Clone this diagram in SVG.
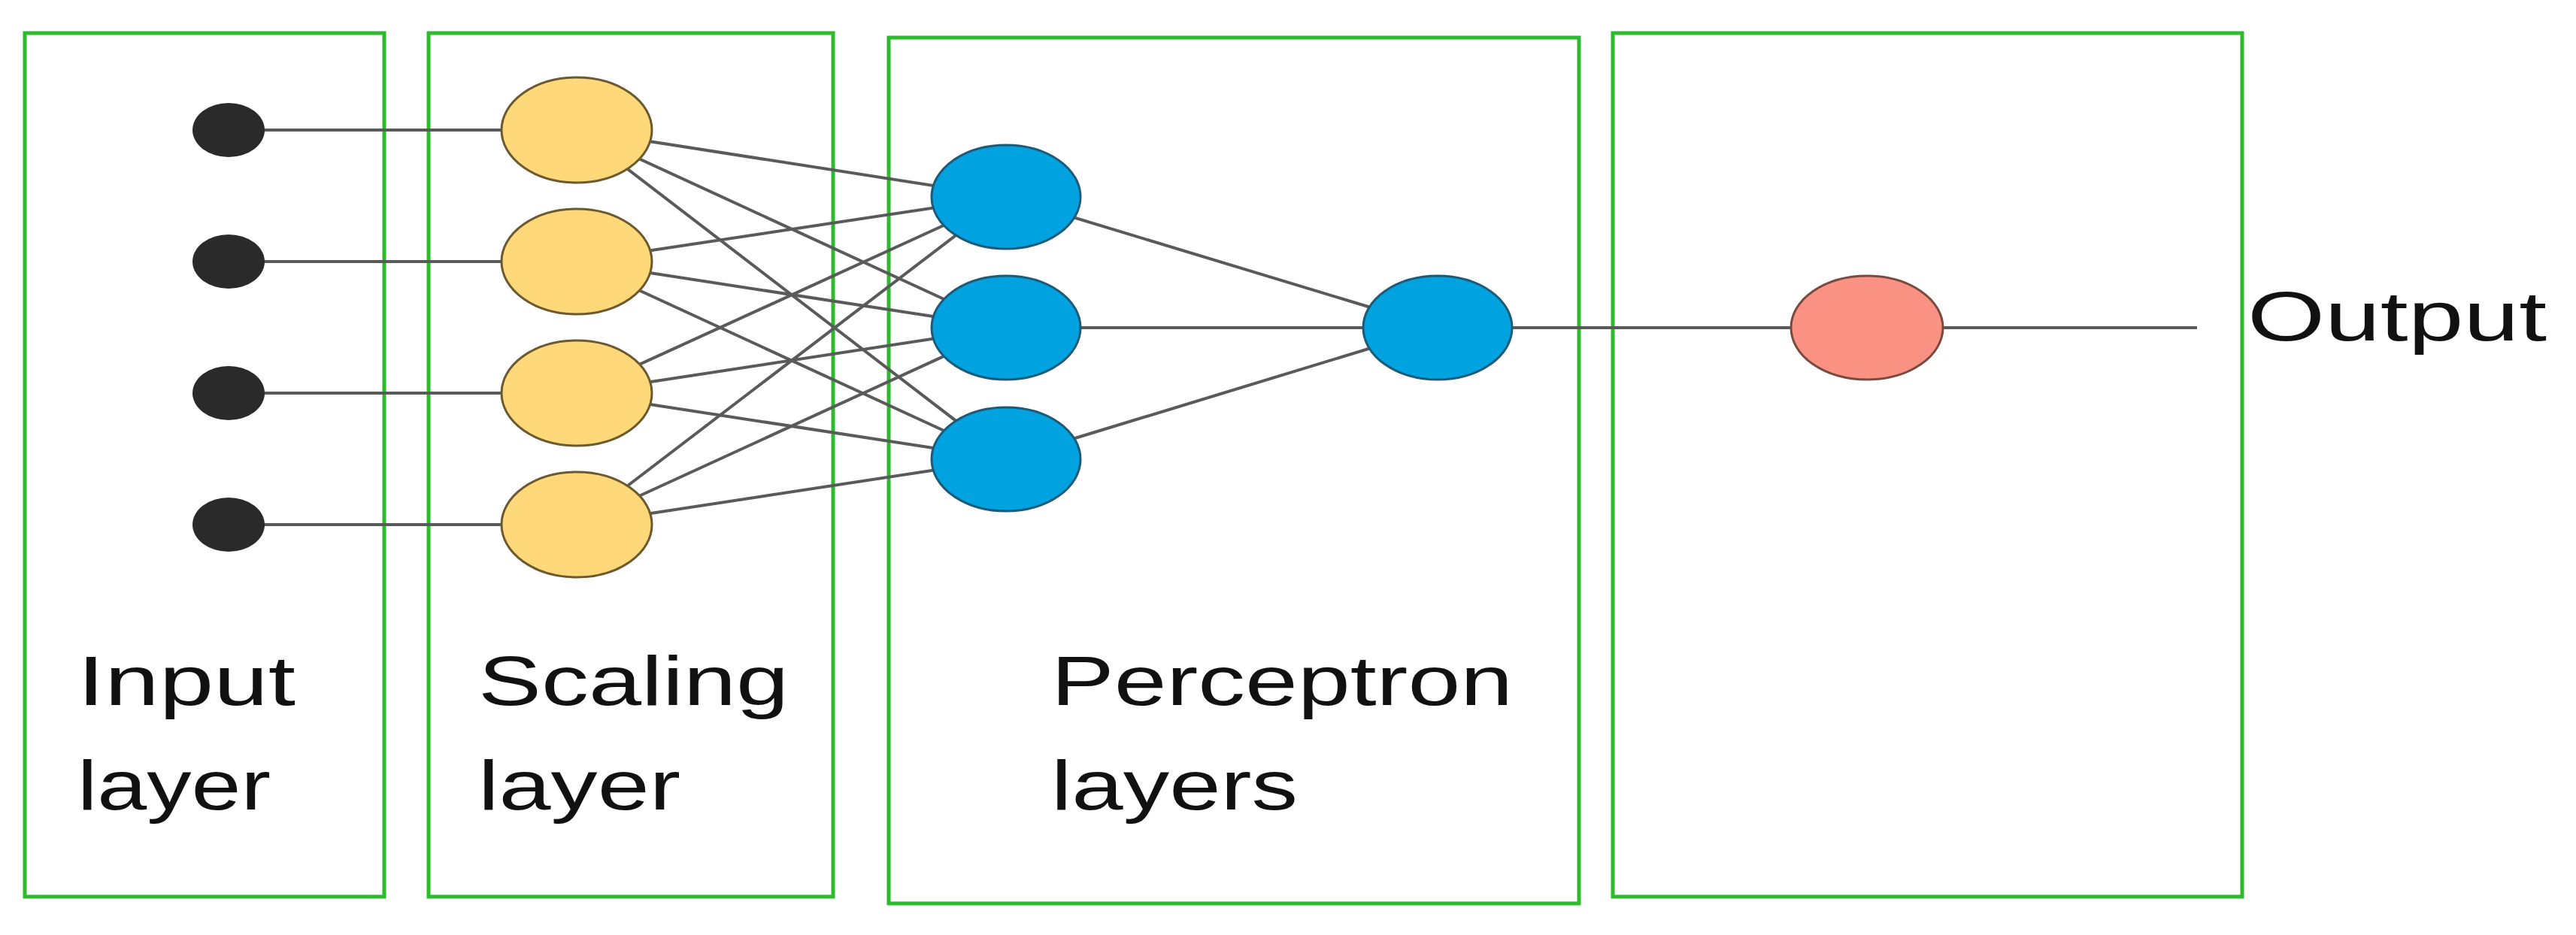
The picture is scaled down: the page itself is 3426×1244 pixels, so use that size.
<svg xmlns="http://www.w3.org/2000/svg" width="3426" height="1244" viewBox="0 0 3426 1244">
<style>
.box{fill:none;stroke:#2dbb2d;stroke-width:5}
.ln{stroke:#5a5a5a;stroke-width:4;fill:none}
.dot{fill:#2a2a2a}
.y{fill:#FFD879;stroke:#6b5a30;stroke-width:3}
.b{fill:#00A3DF;stroke:#1d5a78;stroke-width:3}
.r{fill:#F99282;stroke:#7a4a40;stroke-width:3}
text{font-family:"Liberation Sans","Open Sans",sans-serif;font-size:92px;fill:#111}
</style>
<rect width="3426" height="1244" fill="#fff"/>
<g id="boxes">
<rect class="box" x="33" y="44" width="478" height="1149"/>
<rect class="box" x="570" y="44" width="538" height="1149"/>
<rect class="box" x="1182" y="50" width="918" height="1152"/>
<rect class="box" x="2145" y="44" width="837" height="1149"/>
</g>
<g id="connectors" class="ln">
<path d="M304 173H767M304 348H767M304 523H767M304 698H767"/>
<path d="M767 173L1338 262M767 173L1338 436M767 173L1338 611M767 348L1338 262M767 348L1338 436M767 348L1338 611M767 523L1338 262M767 523L1338 436M767 523L1338 611M767 698L1338 262M767 698L1338 436M767 698L1338 611"/>
<path d="M1338 262L1912 436M1338 436L1912 436M1338 611L1912 436M1912 436H2922"/>
</g>
<g id="input"><ellipse class="dot" cx="304" cy="173" rx="48" ry="36"/><ellipse class="dot" cx="304" cy="348" rx="48" ry="36"/><ellipse class="dot" cx="304" cy="523" rx="48" ry="36"/><ellipse class="dot" cx="304" cy="698" rx="48" ry="36"/></g>
<g id="scaling"><ellipse class="y" cx="767" cy="173" rx="100" ry="70"/><ellipse class="y" cx="767" cy="348" rx="100" ry="70"/><ellipse class="y" cx="767" cy="523" rx="100" ry="70"/><ellipse class="y" cx="767" cy="698" rx="100" ry="70"/></g>
<g id="perceptron"><ellipse class="b" cx="1338" cy="262" rx="99" ry="69"/><ellipse class="b" cx="1338" cy="436" rx="99" ry="69"/><ellipse class="b" cx="1338" cy="611" rx="99" ry="69"/><ellipse class="b" cx="1912" cy="436" rx="99" ry="69"/></g>
<g id="output"><ellipse class="r" cx="2483" cy="436" rx="101" ry="69"/></g>
<g id="labels">
<text x="103" y="938" textLength="290" lengthAdjust="spacingAndGlyphs">Input</text>
<text x="103" y="1077" textLength="257" lengthAdjust="spacingAndGlyphs">layer</text>
<text x="636" y="938" textLength="413" lengthAdjust="spacingAndGlyphs">Scaling</text>
<text x="636" y="1077" textLength="269" lengthAdjust="spacingAndGlyphs">layer</text>
<text x="1398" y="938" textLength="614" lengthAdjust="spacingAndGlyphs">Perceptron</text>
<text x="1398" y="1077" textLength="328" lengthAdjust="spacingAndGlyphs">layers</text>
<text x="2989" y="453" textLength="398" lengthAdjust="spacingAndGlyphs">Output</text>
</g>
</svg>
